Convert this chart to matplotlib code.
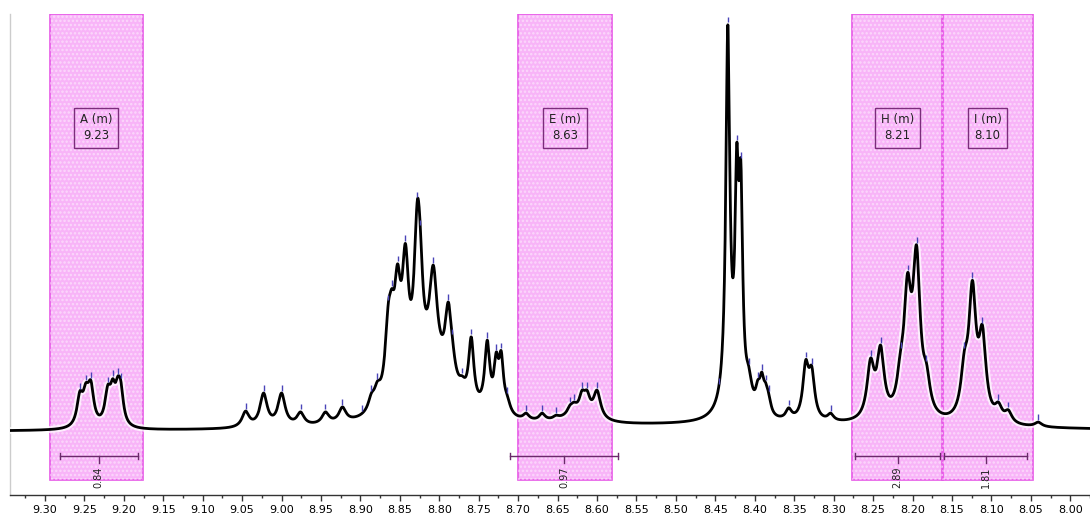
import numpy as np
import matplotlib
matplotlib.use("Agg")
import matplotlib.pyplot as plt
from matplotlib import patheffects as pe
from matplotlib.transforms import blended_transform_factory

# Resolved lines: chemical shift (ppm), apparent height, half-width at half-height (ppm)
line_ppm = [
    9.2557, 9.2481, 9.2418, 9.2203, 9.2139, 9.2076, 9.2038,
    9.0456, 9.0228, 9.0000, 8.9759, 8.9443, 8.9228, 8.8975,
    8.8861, 8.8785, 8.8646, 8.8600, 8.8530, 8.8430, 8.8278, 8.8240,
    8.8076, 8.7886, 8.7835, 8.7709, 8.7595, 8.7392, 8.7278, 8.7215, 8.7139,
    8.6899, 8.6696, 8.6519, 8.6342, 8.6291, 8.6190, 8.6127, 8.6000,
    8.4456, 8.4342, 8.4228, 8.4177, 8.4076, 8.3962, 8.3911, 8.3861, 8.3823,
    8.3570, 8.3354, 8.3278, 8.3038,
    8.2532, 8.2405, 8.2152, 8.2063, 8.1949, 8.1823,
    8.1342, 8.1241, 8.1114, 8.0911, 8.0785, 8.0405,
]
line_height = [
    10.0, 12.0, 12.6, 11.5, 13.0, 13.6, 12.5,
    5.1, 9.5, 9.5, 4.9, 4.9, 6.1, 3.4,
    9.5, 12.4, 31.5, 35.0, 41.0, 46.0, 56.6, 49.8,
    40.7, 31.7, 23.2, 13.7, 23.2, 22.4, 19.5, 19.8, 9.0,
    4.6, 4.6, 4.1, 6.6, 7.3, 10.2, 10.2, 10.2,
    9.5, 99.3, 70.5, 66.3, 16.0, 12.7, 14.6, 12.0, 9.5,
    5.9, 17.6, 16.1, 4.6,
    18.0, 21.2, 20.0, 38.8, 45.6, 16.8,
    20.0, 37.0, 26.1, 7.3, 5.4, 2.4,
]
line_hwhm = [
    0.0045, 0.0045, 0.0045, 0.0045, 0.004, 0.004, 0.004,
    0.0055, 0.0055, 0.0055, 0.0055, 0.0055, 0.0055, 0.0055,
    0.005, 0.005, 0.005, 0.004, 0.005, 0.005, 0.005, 0.004,
    0.006, 0.005, 0.005, 0.005, 0.004, 0.004, 0.0035, 0.0035, 0.005,
    0.0045, 0.0045, 0.0045, 0.0045, 0.0045, 0.0045, 0.0045, 0.0055,
    0.005, 0.003, 0.0028, 0.0028, 0.005, 0.0035, 0.0035, 0.0035, 0.0035,
    0.0045, 0.0045, 0.0045, 0.0045,
    0.0055, 0.0055, 0.0055, 0.0055, 0.0055, 0.0055,
    0.0055, 0.0055, 0.0055, 0.0055, 0.0055, 0.0055,
]

# Broad underlying envelopes (centre, amplitude, half-width)
broad_ppm = [8.40, 8.81, 8.432, 8.625]
broad_amp = [1.6, 12.0, 5.0, 2.0]
broad_hwhm = [0.35, 0.035, 0.012, 0.025]

# Integration regions
region_labels = ["A (m)\n9.23", "E (m)\n8.63", "H (m)\n8.21", "I (m)\n8.10"]
region_start = [9.2937, 8.700, 8.277, 8.163]
region_end = [9.176, 8.581, 8.161, 8.047]
integral_start = [9.281, 8.7101, 8.2734, 8.1595]
integral_end = [9.1823, 8.5734, 8.1646, 8.0544]
integral_values = ["0.84", "0.97", "2.89", "1.81"]

x_ticks = [9.30, 9.25, 9.20, 9.15, 9.10, 9.05, 9.00, 8.95, 8.90, 8.85, 8.80, 8.75,
           8.70, 8.65, 8.60, 8.55, 8.50, 8.45, 8.40, 8.35, 8.30, 8.25, 8.20, 8.15,
           8.10, 8.05, 8.00]


def lorentz(x, x0, g):
    return 1.0 / (1.0 + ((x - x0) / g) ** 2)


P = np.array(line_ppm)
H = np.array(line_height)
G = np.array(line_hwhm)


def broad(x):
    out = np.zeros_like(x, dtype=float)
    for c, a, g in zip(broad_ppm, broad_amp, broad_hwhm):
        out += a * lorentz(x, c, g)
    return out


# Line amplitudes so that the summed spectrum reaches each listed height
target = H - broad(P)
M = lorentz(P[:, None], P[None, :], G[None, :])
amp = np.clip(target, 0, None) * 0.5
for _ in range(800):
    for i in range(len(P)):
        r = target[i] - M[i] @ amp
        amp[i] = max(0.0, amp[i] + 0.8 * r)

xs = np.linspace(7.97, 9.35, 12000)
spec = broad(xs)
for c, a, g in zip(P, amp, G):
    spec += a * lorentz(xs, c, g)

plt.rcParams["hatch.linewidth"] = 1.2
fig = plt.figure(figsize=(10.9, 5.15), dpi=100)
ax = fig.add_axes([10 / 1090, 20 / 515, 1080 / 1090, 481 / 515])
ax.set_xlim(9.3443, 7.9772)
ax.set_ylim(-15.37, 101.95)
trans = blended_transform_factory(ax.transData, ax.transAxes)

# Shaded integration regions
for s, e, lab in zip(region_start, region_end, region_labels):
    ax.axvspan(s, e, ymin=0.031, ymax=1.0, facecolor=(0.94, 0.3, 0.94, 0.42),
               edgecolor=(0.9, 0.35, 0.9), linewidth=1.2, zorder=1)
    ax.axvspan(s, e, ymin=0.031, ymax=1.0, facecolor="none",
               edgecolor=(1, 1, 1, 0.45), hatch="....", linewidth=0, zorder=1.1)
    ax.text((s + e) / 2, 0.763, lab, transform=trans, ha="center", va="center",
            fontsize=8.5, color="#222222", linespacing=1.3, zorder=3,
            bbox=dict(boxstyle="square,pad=0.5", fc="none", ec="#7b2d7b", lw=1.0))

# Integral bars with values
for s, e, v in zip(integral_start, integral_end, integral_values):
    mid = (s + e) / 2
    ax.plot([s, e], [0.081, 0.081], transform=trans, color="#6a2a6a", lw=1.0, zorder=3)
    for xe in (s, e):
        ax.plot([xe, xe], [0.074, 0.088], transform=trans, color="#6a2a6a", lw=1.0, zorder=3)
    ax.plot([mid, mid], [0.081, 0.066], transform=trans, color="#6a2a6a", lw=1.0, zorder=3)
    ax.text(mid, 0.060, v, transform=trans, rotation=90, ha="center", va="top",
            fontsize=7, color="#222222", zorder=3)

# Spectrum trace
ax.plot(xs, spec, color="black", lw=2.0, zorder=4, solid_joinstyle="round",
        path_effects=[pe.Stroke(linewidth=5, foreground="white", alpha=0.75), pe.Normal()])

# Peak markers
peak_top = np.interp(P, xs, spec)
ax.vlines(P, peak_top + 0.6, peak_top + 2.0, colors="#4a44b8", lw=1.0, zorder=5)

# Axes styling
for side in ("top", "right"):
    ax.spines[side].set_visible(False)
ax.spines["left"].set_color("#cccccc")
ax.spines["left"].set_linewidth(1.0)
ax.spines["bottom"].set_color("#333333")
ax.spines["bottom"].set_linewidth(1.0)
ax.set_yticks([])
ax.set_xticks(x_ticks)
ax.set_xticklabels([f"{t:.2f}" for t in x_ticks])
ax.set_xticks(np.arange(7.975, 9.35, 0.05), minor=True)
ax.tick_params(axis="x", which="major", length=4.5, width=1.0, pad=2.5,
               labelsize=8, color="#333333")
ax.tick_params(axis="x", which="minor", length=2.2, width=1.0, color="#333333")

fig.savefig("out.png", dpi=100)
